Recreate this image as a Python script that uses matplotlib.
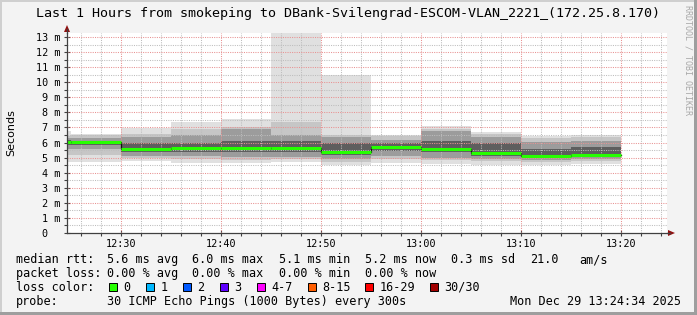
import matplotlib
matplotlib.use("Agg")
import matplotlib.pyplot as plt
from matplotlib.patches import Rectangle, Polygon
from matplotlib.lines import Line2D

W, H = 697, 315

# ---- data (values in milliseconds; x in minutes after 12:00) ----
bin_edges = [20, 25, 30, 35, 40, 45, 50, 55, 60, 65, 70, 75, 80]
rtt_max = [6.74, 6.55, 6.97, 7.34, 7.56, 13.30, 10.50, 6.52, 7.12, 6.72, 6.41, 6.52]
rtt_hi1 = [6.45, 6.50, 6.55, 6.90, 7.00, 7.34, 6.52, 6.45, 6.90, 6.60, 6.30, 6.40]
rtt_hi2 = [6.30, 6.30, 6.35, 6.50, 6.90, 6.52, 6.40, 6.20, 6.80, 6.40, 6.01, 6.08]
rtt_hi3 = [6.15, 6.12, 6.00, 6.00, 6.10, 6.10, 5.95, 5.95, 6.10, 5.95, 5.60, 5.70]
rtt_med = [6.01, 6.01, 5.59, 5.64, 5.64, 5.66, 5.39, 5.73, 5.60, 5.31, 5.13, 5.20]
rtt_lo3 = [5.85, 5.85, 5.40, 5.38, 5.35, 5.35, 5.15, 5.45, 5.35, 5.10, 5.00, 5.05]
rtt_lo2 = [5.60, 5.55, 5.10, 5.10, 5.05, 5.05, 4.90, 5.10, 5.00, 4.90, 4.85, 4.90]
rtt_lo1 = [5.20, 5.20, 4.95, 4.90, 4.85, 4.90, 4.70, 4.90, 4.85, 4.75, 4.70, 4.75]
rtt_min = [4.69, 4.70, 4.75, 4.64, 4.64, 4.69, 4.50, 4.64, 4.60, 4.53, 4.50, 4.60]

x_ticks = [30, 40, 50, 60, 70, 80]
x_labels = ["12:30", "12:40", "12:50", "13:00", "13:10", "13:20"]
y_ticks = list(range(0, 14))
y_labels = [f"{v} m" if v > 0 else "0  " for v in y_ticks]
x_start, x_end = 24 + 34 / 60, 84 + 34 / 60
y_top = 13.27

title = "Last 1 Hours from smokeping to DBank-Svilengrad-ESCOM-VLAN_2221_(172.25.8.170)"
loss_labels = ["0", "1", "2", "3", "4-7", "8-15", "16-29", "30/30"]
loss_colors = ["#26ff00", "#00b8ff", "#0059ff", "#5e00ff", "#ff00ff", "#ff5e00", "#ff0000", "#a10000"]
rtt_stats = ["5.6 ms avg", "6.0 ms max", "5.1 ms min", "5.2 ms now", "0.3 ms sd", "21.0", "am/s"]
loss_stats = ["0.00 % avg", "0.00 % max", "0.00 % min", "0.00 % now"]
probe_text = "30 ICMP Echo Pings (1000 Bytes) every 300s"
date_text = "Mon Dec 29 13:24:34 2025"

MONO = "DejaVu Sans Mono"

def fx(px):
    return px / W

def fy(py):
    return 1 - py / H

fig = plt.figure(figsize=(W / 100, H / 100), dpi=100)
fig.patch.set_facecolor("#f3f3f3")

# frame shading
fig.add_artist(Rectangle((0, fy(2)), 1, 2 / H, transform=fig.transFigure, color="#cfcfcf", lw=0))
fig.add_artist(Rectangle((0, 0), 2 / W, 1, transform=fig.transFigure, color="#cfcfcf", lw=0))
fig.add_artist(Rectangle((fx(694), 0), 3 / W, 1, transform=fig.transFigure, color="#9e9e9e", lw=0))
fig.add_artist(Rectangle((0, 0), 1, 3 / H, transform=fig.transFigure, color="#9e9e9e", lw=0))

ax = fig.add_axes([fx(67), fy(233), 600 / W, 200 / H])
ax.set_facecolor("white")
ax.set_xlim(x_start, x_end)
ax.set_ylim(0, y_top)

def ext(a):
    return list(a) + [a[-1]]

layers = [
    (rtt_min, rtt_max, "#e0e0e0"),
    (rtt_lo1, rtt_hi1, "#c6c6c6"),
    (rtt_lo2, rtt_hi2, "#9c9c9c"),
    (rtt_lo3, rtt_hi3, "#5e5e5e"),
]
for lo, hi, c in layers:
    ax.fill_between(bin_edges, ext(lo), ext(hi), step="post", color=c, lw=0, zorder=2)

# grid (drawn over the smoke, as rrdtool does)
for m in range(26, 85, 2):
    if m % 10 == 0:
        continue
    ax.axvline(m, color="#bdbdbd", lw=0.75, ls=(0, (1, 1.2)), zorder=2.5)
for k in range(1, 27, 2):
    ax.axhline(k * 0.5, color="#bdbdbd", lw=0.75, ls=(0, (1, 1.2)), zorder=2.5)
for m in x_ticks:
    ax.axvline(m, color="#e89292", lw=0.75, ls=(0, (1, 1.2)), zorder=2.6)
for v in y_ticks[1:]:
    ax.axhline(v, color="#e89292", lw=0.75, ls=(0, (1, 1.2)), zorder=2.6)

ax.step(bin_edges, ext(rtt_med), where="post", color="#111111", lw=0.9, zorder=3)
ax.hlines(rtt_med, bin_edges[:-1], bin_edges[1:], color=loss_colors[0], lw=2.2, zorder=4)

# axes styling
for s in ["top", "right"]:
    ax.spines[s].set_visible(False)
for s in ["left", "bottom"]:
    ax.spines[s].set_color("#404040")
    ax.spines[s].set_linewidth(0.9)
    ax.spines[s].set_zorder(5)
ax.set_xticks(x_ticks)
ax.set_xticklabels(x_labels, fontfamily=MONO, fontsize=7.3)
ax.set_xticks([m for m in range(26, 85, 2) if m % 10 != 0], minor=True)
ax.set_yticks(y_ticks)
ax.set_yticklabels(y_labels, fontfamily=MONO, fontsize=7.3)
ax.set_yticks([k * 0.5 for k in range(1, 27, 2)], minor=True)
ax.tick_params(which="major", direction="inout", length=5, width=0.8, color="#404040", pad=2)
ax.tick_params(which="minor", direction="out", length=2, width=0.8, color="#404040")

# axis extensions and arrows
fig.add_artist(Line2D([fx(667), fx(670)], [fy(233), fy(233)], transform=fig.transFigure, color="#404040", lw=0.9))
fig.add_artist(Line2D([fx(67), fx(67)], [fy(33), fy(29)], transform=fig.transFigure, color="#404040", lw=0.9))
fig.add_artist(Polygon([[fx(668), fy(230)], [fx(675), fy(233)], [fx(668), fy(236)]], closed=True,
                       transform=fig.transFigure, color="#901010", lw=0))
fig.add_artist(Polygon([[fx(64), fy(32)], [fx(67), fy(25)], [fx(70), fy(32)]], closed=True,
                       transform=fig.transFigure, color="#901010", lw=0))

# texts
fig.text(fx(348), fy(13), title, ha="center", va="center", fontfamily=MONO, fontsize=9.6)
fig.text(fx(11), fy(133), "Seconds", rotation=90, ha="center", va="center", fontsize=8)
fig.text(fx(688), fy(60), "RRDTOOL / TOBI OETIKER", rotation=270, ha="center", va="center",
         fontfamily=MONO, fontsize=6, color="#a8a8a8")

LS = 8.5
rows_y = [259.7, 273.2, 287.3, 301.2]
fig.text(fx(16), fy(rows_y[0]), "median rtt:", ha="left", va="center", fontfamily=MONO, fontsize=LS)
rtt_x = [107, 192.5, 279, 365, 451, 530, 579]
for xp, t in zip(rtt_x, rtt_stats):
    fig.text(fx(xp), fy(rows_y[0]), t, ha="left", va="center", fontfamily=MONO, fontsize=LS)
fig.text(fx(16), fy(rows_y[1]), "packet loss:", ha="left", va="center", fontfamily=MONO, fontsize=LS)
for xp, t in zip(rtt_x[:4], loss_stats):
    fig.text(fx(xp), fy(rows_y[1]), t, ha="left", va="center", fontfamily=MONO, fontsize=LS)
fig.text(fx(16), fy(rows_y[2]), "loss color:", ha="left", va="center", fontfamily=MONO, fontsize=LS)
box_x = [109, 146, 183, 219.6, 257, 307.6, 365.3, 430.2]
for xp, lab, c in zip(box_x, loss_labels, loss_colors):
    fig.add_artist(Rectangle((fx(xp), fy(rows_y[2] + 4)), 8 / W, 8 / H, transform=fig.transFigure,
                             facecolor=c, edgecolor="black", lw=0.7))
    fig.text(fx(xp + 14.3), fy(rows_y[2]), lab, ha="left", va="center", fontfamily=MONO, fontsize=LS)
fig.text(fx(16), fy(rows_y[3]), "probe:", ha="left", va="center", fontfamily=MONO, fontsize=LS)
fig.text(fx(107), fy(rows_y[3]), probe_text, ha="left", va="center", fontfamily=MONO, fontsize=LS)
fig.text(fx(681), fy(rows_y[3]), date_text, ha="right", va="center", fontfamily=MONO, fontsize=LS)

fig.savefig("out.png", dpi=100, facecolor=fig.get_facecolor())
